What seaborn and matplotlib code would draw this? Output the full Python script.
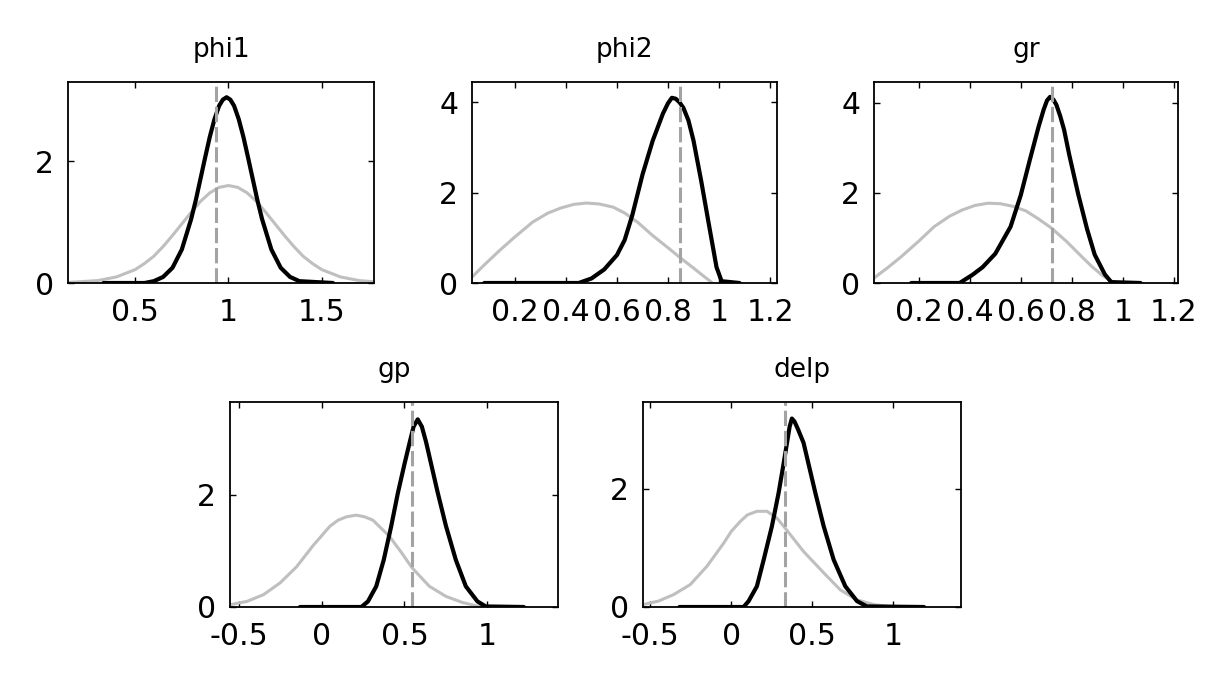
import numpy as np
import matplotlib
matplotlib.use('Agg')
import matplotlib.pyplot as plt
import seaborn as sns

# panel names and true values (dashed line)
names = ['phi1', 'phi2', 'gr', 'gp', 'delp']
true_vals = [0.935, 0.845, 0.723, 0.546, 0.333]

# prior curves (gray)
phi1_prior_x = [0.14, 0.2, 0.3, 0.4, 0.5, 0.55, 0.6, 0.65, 0.7, 0.75, 0.8, 0.85, 0.9, 0.95, 1.0,
                1.05, 1.1, 1.15, 1.2, 1.25, 1.3, 1.35, 1.4, 1.45, 1.5, 1.6, 1.7, 1.78]
phi1_prior_y = [0.01, 0.02, 0.04, 0.1, 0.22, 0.32, 0.44, 0.6, 0.78, 0.97, 1.16, 1.34, 1.48, 1.57, 1.6,
                1.57, 1.48, 1.34, 1.16, 0.97, 0.78, 0.6, 0.44, 0.32, 0.22, 0.1, 0.04, 0.02]
phi2_prior_x = [0.032, 0.08, 0.14, 0.2, 0.27, 0.33, 0.38, 0.43, 0.48, 0.53, 0.585, 0.63, 0.68, 0.74, 0.8, 0.85, 0.9, 0.94, 0.97]
phi2_prior_y = [0.13, 0.4, 0.72, 1.02, 1.35, 1.55, 1.66, 1.74, 1.77, 1.75, 1.68, 1.55, 1.35, 1.05, 0.78, 0.55, 0.33, 0.15, 0.02]
gr_prior_x = [0.024, 0.08, 0.13, 0.2, 0.26, 0.32, 0.37, 0.42, 0.47, 0.52, 0.57, 0.62, 0.67, 0.72, 0.78, 0.84, 0.88, 0.92, 0.96]
gr_prior_y = [0.11, 0.35, 0.58, 0.93, 1.25, 1.48, 1.62, 1.72, 1.77, 1.76, 1.7, 1.6, 1.42, 1.22, 0.92, 0.58, 0.36, 0.17, 0.03]
gp_prior_x = [-0.552, -0.45, -0.35, -0.25, -0.15, -0.05, 0.05, 0.1, 0.15, 0.21, 0.26, 0.31, 0.41, 0.48, 0.546, 0.65, 0.75, 0.85, 0.95, 1.05]
gp_prior_y = [0.04, 0.1, 0.22, 0.43, 0.72, 1.1, 1.44, 1.55, 1.61, 1.64, 1.61, 1.55, 1.26, 0.98, 0.7, 0.37, 0.19, 0.08, 0.01, 0.0]
delp_prior_x = [-0.545, -0.45, -0.356, -0.253, -0.15, -0.047, 0.0, 0.056, 0.1, 0.158, 0.22, 0.28, 0.34, 0.446, 0.57, 0.673, 0.776, 0.88, 1.0]
delp_prior_y = [0.04, 0.1, 0.21, 0.38, 0.69, 1.08, 1.28, 1.45, 1.56, 1.62, 1.62, 1.51, 1.31, 0.94, 0.58, 0.29, 0.12, 0.04, 0.0]

# posterior curves (black)
phi1_post_x = [0.33, 0.55, 0.6, 0.65, 0.7, 0.75, 0.8, 0.825, 0.85, 0.875, 0.9, 0.925, 0.95, 0.97, 0.99,
               1.01, 1.03, 1.055, 1.08, 1.105, 1.13, 1.155, 1.18, 1.23, 1.28, 1.33, 1.38, 1.56]
phi1_post_y = [0.0, 0.0, 0.03, 0.1, 0.25, 0.55, 1.05, 1.36, 1.71, 2.06, 2.4, 2.69, 2.91, 3.01, 3.05,
               3.01, 2.91, 2.69, 2.4, 2.06, 1.71, 1.36, 1.05, 0.55, 0.25, 0.1, 0.03, 0.0]
phi2_post_x = [0.08, 0.45, 0.5, 0.55, 0.6, 0.63, 0.66, 0.7, 0.74, 0.78, 0.8, 0.815, 0.83, 0.845, 0.86, 0.88, 0.9, 0.93, 0.96, 0.99, 1.01, 1.08]
phi2_post_y = [0.0, 0.0, 0.1, 0.3, 0.62, 0.95, 1.5, 2.4, 3.15, 3.75, 3.98, 4.1, 4.08, 4.0, 3.88, 3.6, 3.15, 2.26, 1.3, 0.35, 0.04, 0.0]
gr_post_x = [0.17, 0.36, 0.41, 0.45, 0.5, 0.56, 0.6, 0.635, 0.67, 0.69, 0.703, 0.715, 0.728, 0.74, 0.755, 0.77, 0.79, 0.825, 0.86, 0.89, 0.93, 0.955, 1.07]
gr_post_y = [0.0, 0.0, 0.18, 0.35, 0.65, 1.25, 1.95, 2.72, 3.47, 3.85, 4.05, 4.13, 4.07, 3.95, 3.7, 3.4, 2.85, 1.98, 1.2, 0.63, 0.19, 0.02, 0.0]
gp_post_x = [-0.13, 0.24, 0.28, 0.33, 0.375, 0.42, 0.46, 0.5, 0.53, 0.555, 0.58, 0.605, 0.63, 0.7, 0.75, 0.81, 0.87, 0.94, 0.99, 1.22]
gp_post_y = [0.0, 0.0, 0.1, 0.37, 0.84, 1.44, 2.03, 2.55, 2.92, 3.22, 3.35, 3.22, 2.95, 2.05, 1.45, 0.84, 0.37, 0.1, 0.01, 0.0]
delp_post_x = [-0.32, 0.076, 0.107, 0.158, 0.2, 0.251, 0.292, 0.32, 0.344, 0.36, 0.374, 0.39, 0.41, 0.446, 0.519, 0.57, 0.632, 0.704, 0.776, 0.837, 1.19]
delp_post_y = [0.0, 0.0, 0.1, 0.35, 0.8, 1.37, 1.93, 2.38, 2.78, 3.05, 3.19, 3.14, 3.02, 2.78, 1.93, 1.37, 0.8, 0.35, 0.1, 0.01, 0.0]

prior_x = [phi1_prior_x, phi2_prior_x, gr_prior_x, gp_prior_x, delp_prior_x]
prior_y = [phi1_prior_y, phi2_prior_y, gr_prior_y, gp_prior_y, delp_prior_y]
post_x = [phi1_post_x, phi2_post_x, gr_post_x, gp_post_x, delp_post_x]
post_y = [phi1_post_y, phi2_post_y, gr_post_y, gp_post_y, delp_post_y]

# axis ticks
xticks = [[0.5, 1, 1.5], [0.2, 0.4, 0.6, 0.8, 1, 1.2], [0.2, 0.4, 0.6, 0.8, 1, 1.2],
          [-0.5, 0, 0.5, 1], [-0.5, 0, 0.5, 1]]
xlabels = [['0.5', '1', '1.5'], ['0.2', '0.4', '0.6', '0.8', '1', '1.2'],
           ['0.2', '0.4', '0.6', '0.8', '1', '1.2'], ['-0.5', '0', '0.5', '1'], ['-0.5', '0', '0.5', '1']]
yticks = [[0, 2], [0, 2, 4], [0, 2, 4], [0, 2], [0, 2]]
xlims = [(0.14, 1.78), (0.032, 1.227), (0.024, 1.217), (-0.552, 1.426), (-0.545, 1.418)]
ylims = [(0, 3.3), (0, 4.45), (0, 4.46), (0, 3.66), (0, 3.47)]

W, H = 1221, 682
rects = [(68, 82, 306, 201), (472, 82, 305, 201), (874, 82, 304, 201),
         (230, 402, 328, 205), (643, 402, 318, 205)]  # px: left, top, w, h

sns.set_theme(style='ticks')
plt.rcParams['font.family'] = ['DejaVu Sans']
plt.rcParams['xtick.direction'] = 'in'
plt.rcParams['ytick.direction'] = 'in'

fig = plt.figure(figsize=(W / 100, H / 100), dpi=100)
fig.patch.set_facecolor('white')

for i in range(5):
    l, t, w, h = rects[i]
    ax = fig.add_axes([l / W, 1 - (t + h) / H, w / W, h / H])
    sns.lineplot(x=prior_x[i], y=prior_y[i], ax=ax, color='#bfbfbf', lw=2.2, sort=False, estimator=None)
    sns.lineplot(x=post_x[i], y=post_y[i], ax=ax, color='black', lw=3.0, sort=False, estimator=None)
    ax.axvline(true_vals[i], color='#a3a3a3', lw=2.2, ls=(0, (5, 1.6)))
    ax.set_xlim(*xlims[i])
    ax.set_ylim(*ylims[i])
    ax.set_xticks(xticks[i])
    ax.set_xticklabels(xlabels[i])
    ax.set_yticks(yticks[i])
    ax.set_yticklabels([str(v) for v in yticks[i]])
    ax.tick_params(axis='both', labelsize=21.5, length=4, width=1, color='black',
                   labelcolor='black', top=True, right=True)
    ax.tick_params(axis='x', pad=11)
    ax.tick_params(axis='y', pad=10)
    for s in ax.spines.values():
        s.set_visible(True)
        s.set_color('black')
        s.set_linewidth(1.3)
    ax.set_title(names[i], fontsize=19, pad=18, color='black')
    ax.set_xlabel('')
    ax.set_ylabel('')

plt.savefig('out.png', dpi=100, facecolor='white')
plt.close()
